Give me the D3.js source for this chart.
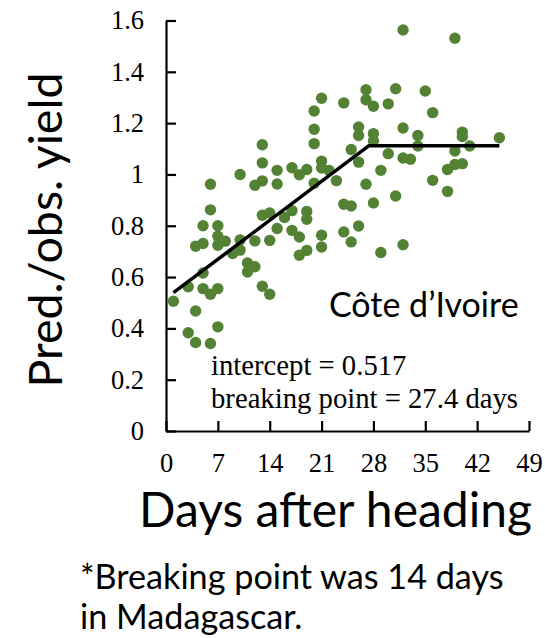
<!DOCTYPE html>
<html>
<head>
<meta charset="utf-8">
<script src="https://cdn.jsdelivr.net/npm/d3@7"></script>
<style>
    body { margin: 0; background: #fff; }
    svg { display: block; }
</style>
</head>
<body>
<script>
let days = [1, 3, 3, 4, 4, 4, 5, 5, 5, 5, 6, 6, 6, 6, 7, 7, 7, 7, 7, 8,
    9, 10, 10, 10, 11, 11, 12, 12, 12, 13, 13, 13, 13, 13, 14, 14, 14, 15, 15, 15,
    16, 17, 17, 17, 18, 18, 18, 19, 19, 19, 19, 20, 20, 20, 20, 21, 21, 21, 21, 21,
    22, 23, 24, 24, 24, 25, 25, 25, 26, 26, 26, 26, 27, 27, 27, 28, 28, 28, 28, 29,
    29, 30, 30, 31, 31, 32, 32, 32, 32, 33, 34, 34, 35, 36, 36, 38, 38, 39, 39, 39,
    40, 40, 40, 41, 45];
let ratios = [0.506, 0.562, 0.383, 0.720, 0.468, 0.345, 0.800, 0.731, 0.616, 0.555,
    0.962, 0.862, 0.533, 0.341, 0.800, 0.759, 0.724, 0.555, 0.406, 0.740,
    0.692, 1.000, 0.745, 0.705, 0.655, 0.620, 0.958, 0.741, 0.640, 1.116,
    1.045, 0.975, 0.841, 0.564, 0.850, 0.743, 0.533, 1.016, 0.963, 0.789,
    0.832, 1.026, 0.859, 0.782, 0.999, 0.756, 0.685, 1.019, 0.856, 0.825,
    0.704, 1.247, 1.176, 1.120, 0.966, 1.297, 1.052, 1.025, 0.763, 0.717,
    1.016, 0.976, 1.279, 0.884, 0.776, 1.097, 0.877, 0.737, 1.185, 1.152,
    1.048, 0.799, 1.330, 1.291, 0.962, 1.266, 1.159, 1.130, 0.889, 1.016,
    0.696, 1.275, 1.081, 1.334, 0.916, 1.563, 1.181, 1.064, 0.726, 1.059,
    1.152, 1.111, 1.325, 1.241, 0.977, 1.019, 0.934, 1.531, 1.091, 1.039,
    1.165, 1.148, 1.042, 1.111, 1.143];

// broken-stick fit (intercept 0.517, break at 27.4 days)
let fitDays = [1, 27.4, 45];
let fitRatios = [0.539, 1.112, 1.112];

let xTicks = [0, 7, 14, 21, 28, 35, 42, 49];
let yTicks = [0, 0.2, 0.4, 0.6, 0.8, 1, 1.2, 1.4, 1.6];

let width = 545, height = 638;
let serif = '"Liberation Serif", "Times New Roman", serif';
let sans = 'Lato, "Open Sans", sans-serif';
let green = '#548235';

let svg = d3.select('body').append('svg')
    .attr('width', width)
    .attr('height', height);

let x = d3.scaleLinear().domain([0, 49]).range([166, 529]);
let y = d3.scaleLinear().domain([0, 1.6]).range([431, 20.5]);

// axes, ticks pointing inward
let xAxis = svg.append('g')
    .attr('transform', 'translate(0,' + y(0) + ')')
    .call(d3.axisBottom(x).tickValues(xTicks).tickSizeInner(-10).tickSizeOuter(0).tickPadding(22));
let yAxis = svg.append('g')
    .attr('transform', 'translate(' + x(0) + ',0)')
    .call(d3.axisLeft(y).tickValues(yTicks).tickSizeInner(-10).tickSizeOuter(0)
        .tickPadding(22).tickFormat(d3.format('~g')));

[xAxis, yAxis].forEach(a => {
    a.select('.domain').attr('stroke', '#000').attr('stroke-width', 2.2);
    a.selectAll('.tick line').attr('stroke', '#000').attr('stroke-width', 2.2);
    a.selectAll('.tick text')
        .attr('fill', '#000')
        .style('font-family', serif)
        .style('font-size', '26.5px');
});
xAxis.selectAll('.tick text').attr('dy', '0.71em');

let pts = days.map((d, i) => ({ d, r: ratios[i] }));
svg.append('g').selectAll('circle').data(pts).enter().append('circle')
    .attr('cx', p => x(p.d))
    .attr('cy', p => y(p.r))
    .attr('r', 5.7)
    .attr('fill', green);

let fit = fitDays.map((d, i) => ({ d, r: fitRatios[i] }));
svg.append('path').datum(fit)
    .attr('d', d3.line().x(p => x(p.d)).y(p => y(p.r)))
    .attr('fill', 'none')
    .attr('stroke', '#000')
    .attr('stroke-width', 3.5)
    .attr('stroke-linejoin', 'round');

// labels
svg.append('text')
    .attr('transform', 'translate(62,230) rotate(-90)')
    .attr('text-anchor', 'middle')
    .style('font-family', sans)
    .style('font-size', '46.5px')
    .text('Pred./obs. yield');

svg.append('text')
    .attr('x', 139).attr('y', 527)
    .style('font-family', sans)
    .style('font-size', '48px')
    .text('Days after heading');

svg.append('text')
    .attr('x', 329).attr('y', 317)
    .style('font-family', sans)
    .style('font-size', '34px')
    .text('Côte d\u2019Ivoire');

svg.append('text')
    .attr('x', 211).attr('y', 375)
    .style('font-family', serif)
    .style('font-size', '28.7px')
    .text('intercept = 0.517');
svg.append('text')
    .attr('x', 211).attr('y', 408)
    .style('font-family', serif)
    .style('font-size', '28.7px')
    .text('breaking point = 27.4 days');

let note = svg.append('text')
    .attr('x', 80).attr('y', 589)
    .style('font-family', sans)
    .style('font-size', '34.2px');
note.append('tspan').text('*Breaking point was 14 days');
note.append('tspan').attr('x', 80).attr('dy', 40).text('in Madagascar.');
</script>
</body>
</html>
